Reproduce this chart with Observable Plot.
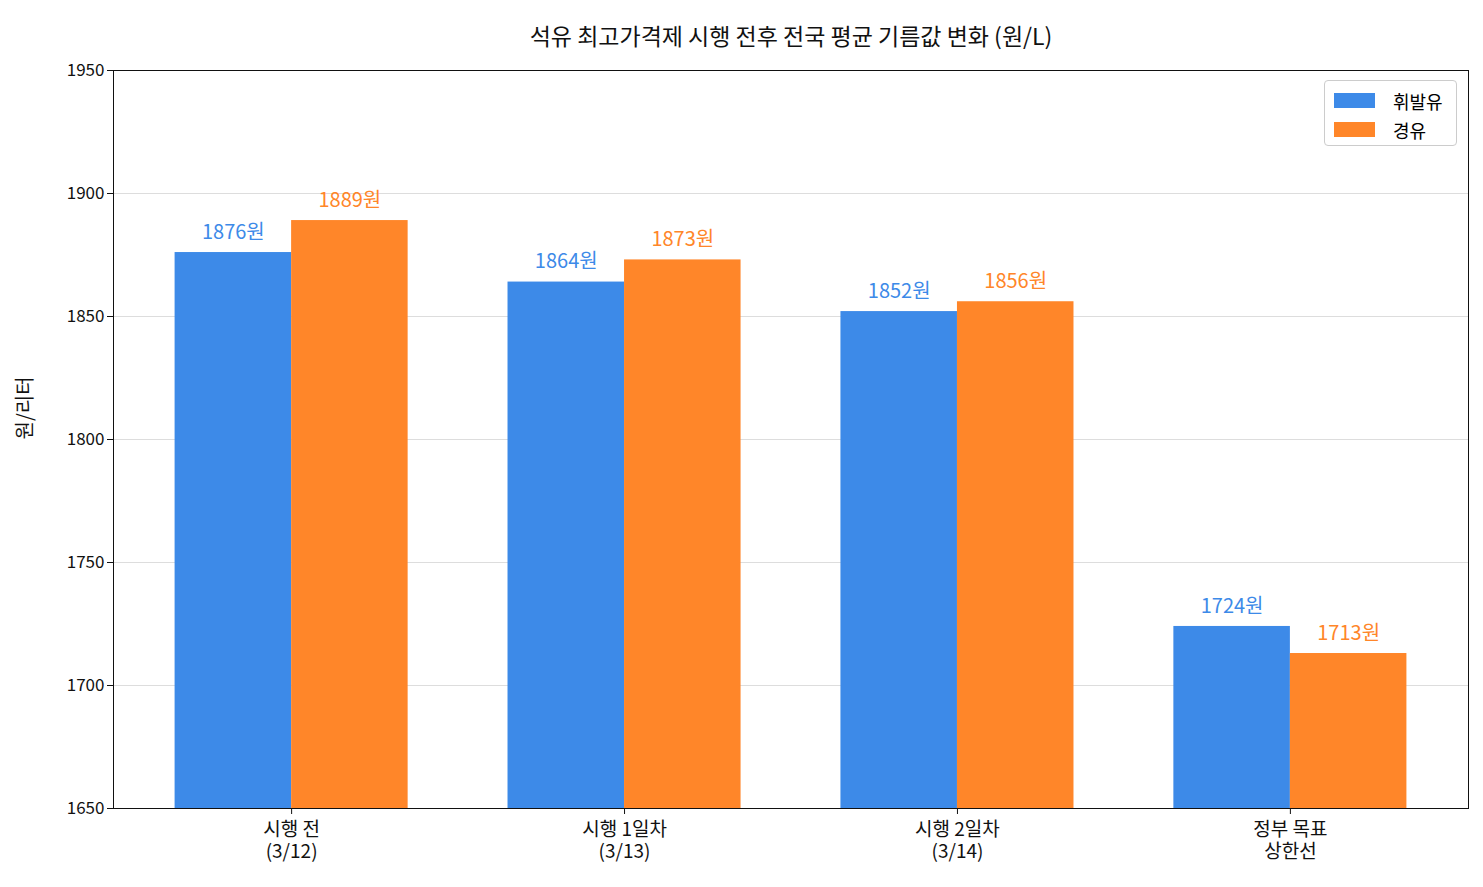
<!DOCTYPE html>
<html><head><meta charset="utf-8">
<script src="https://cdn.jsdelivr.net/npm/d3@7"></script>
<script src="https://cdn.jsdelivr.net/npm/@observablehq/plot@0.6"></script>
<style>
body{margin:0;background:#fff;font-family:"Noto Sans CJK KR",sans-serif;}
#wrap{position:relative;width:1483px;height:887px;}
#legend{position:absolute;left:1324px;top:80px;width:133px;height:66px;border:1px solid #ccc;border-radius:4px;background:#fff;font-size:18px;box-sizing:border-box;padding:5px 0 0 9px;}
#legend div{display:flex;align-items:center;height:29px;}
#legend span.sw{display:inline-block;width:41px;height:15px;margin-right:18px;}
</style></head><body>
<div id="wrap"><div id="legend">
<div><span class="sw" style="background:#3d8ae8"></span>휘발유</div>
<div><span class="sw" style="background:#ff8629"></span>경유</div>
</div></div>
<script>
const categories = ["시행 전\n(3/12)", "시행 1일차\n(3/13)", "시행 2일차\n(3/14)", "정부 목표\n상한선"];
const gasoline = [1876, 1864, 1852, 1724];
const diesel = [1889, 1873, 1856, 1713];
const yTicks = [1650, 1700, 1750, 1800, 1850, 1900, 1950];
const colors = {"휘발유": "#3d8ae8", "경유": "#ff8629"};
const W = 0.35;
const data = [];
categories.forEach((c, i) => {
  data.push({i, s: "휘발유", v: gasoline[i], x1: i - W, x2: i});
  data.push({i, s: "경유", v: diesel[i], x1: i, x2: i + W});
});
const plot = Plot.plot({
  width: 1483, height: 887,
  marginLeft: 113, marginRight: 15, marginTop: 70, marginBottom: 79,
  style: {fontFamily: "Noto Sans CJK KR, sans-serif", fontSize: "17px", color: "#111"},
  x: {domain: [-0.535, 3.535], label: null},
  y: {domain: [1650, 1950], label: null},
  marks: [
    Plot.gridY(yTicks, {stroke: "#ddd", strokeOpacity: 1}),
    Plot.rectY(data, {x1: "x1", x2: "x2", y1: 1650, y2: "v", fill: d => colors[d.s]}),
    Plot.text(data, {x: d => (d.x1 + d.x2) / 2, y: "v", text: d => d.v + "원", fill: d => colors[d.s], dy: -20, fontSize: 20}),
    Plot.axisX({ticks: [0,1,2,3], tickFormat: i => categories[i], tickSize: 6, fontSize: 19, lineHeight: 1.15, tickPadding: 6, label: null}),
    Plot.axisY({ticks: yTicks, tickFormat: d => String(d), tickSize: 6, fontSize: 17, label: null}),
    Plot.frame({stroke: "#111"}),
    Plot.text(["원/리터"], {frameAnchor: "left", dx: -88, rotate: -90, fontSize: 20, fill: "#111"}),
    Plot.text(["석유 최고가격제 시행 전후 전국 평균 기름값 변화 (원/L)"], {frameAnchor: "top", dy: -42, fontSize: 23, fill: "#111"})
  ]
});
document.getElementById("wrap").prepend(plot);
</script></body></html>
